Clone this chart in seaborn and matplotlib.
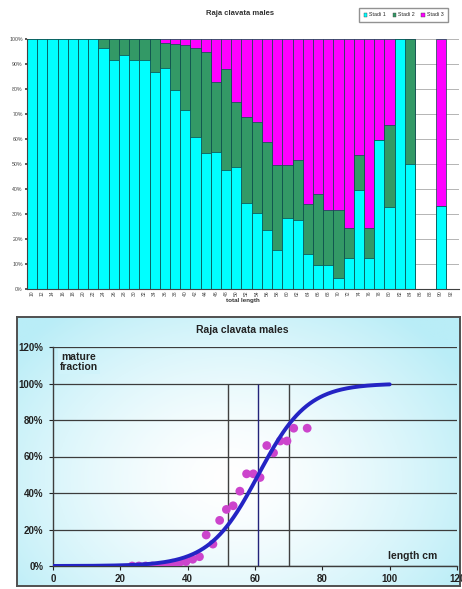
import numpy as np
import pandas as pd
import matplotlib
matplotlib.use("Agg")
import matplotlib.pyplot as plt
import seaborn as sns
from matplotlib.colors import to_rgb
from matplotlib.patches import Patch
from matplotlib.ticker import PercentFormatter

sns.set_theme(style="white")
plt.rcParams["font.family"] = ["Liberation Sans", "DejaVu Sans"]

nan = np.nan

# ---- maturity-stage composition by total-length class (percent of fish) ----
length_labels = ["10", "12", "14", "16", "18", "20", "22", "24", "26", "28",
                 "30", "32", "34", "36", "38", "40", "42", "44", "46", "48",
                 "50", "52", "54", "56", "58", "60", "62", "64", "66", "68",
                 "70", "72", "74", "76", "78", "80", "82", "84", "86", "88",
                 "90", "92"]
stage1 = [100, 100, 100, 100, 100, 100, 100, 96.5, 91.5, 93.5,
          91.5, 91.5, 87, 88.5, 79.5, 71.5, 61, 54.5, 55, 47.5,
          49, 34.5, 30.5, 23.5, 15.5, 28.5, 27.5, 14, 9.5, 9.5,
          4.5, 12.5, 39.5, 12.5, 59.5, 33, 100, 50, nan, nan,
          33.3, nan]
stage2 = [0, 0, 0, 0, 0, 0, 0, 3.5, 8.5, 6.5,
          8.5, 8.5, 13, 10, 18.7, 26.1, 35.3, 40.4, 28, 40.5,
          26, 34.5, 36.5, 35.5, 34, 21, 24, 20, 28.5, 22,
          27, 12, 14, 12, 0, 32.5, 0, 50, nan, nan,
          0, nan]
stage3 = [0, 0, 0, 0, 0, 0, 0, 0, 0, 0,
          0, 0, 0, 1.5, 1.8, 2.4, 3.7, 5.1, 17, 12,
          25, 31, 33, 41, 50.5, 50.5, 48.5, 66, 62, 68.5,
          68.5, 75.5, 46.5, 75.5, 40.5, 34.5, 0, 0, nan, nan,
          66.7, nan]
stage_names = ["Stadi 1", "Stadi 2", "Stadi 3"]
stage_colors = ["#00FFFF", "#339966", "#FF00FF"]

# ---- observed mature fraction and fitted maturity ogive ----
mature_len = [23.5, 25.5, 27.5, 29.5, 31.5, 33.5, 35.5, 37.5, 39.5, 41.5,
              43.5, 45.5, 47.5, 49.5, 51.5, 53.5, 55.5, 57.5, 59.5, 61.5,
              63.5, 65.5, 67.5, 69.5, 71.5, 75.5]
mature_frac = [0.0, 0.0, 0.0, 0.0, 0.0, 0.0, 0.015, 0.018, 0.024, 0.037,
               0.051, 0.17, 0.12, 0.25, 0.31, 0.33, 0.41, 0.505, 0.505, 0.485,
               0.66, 0.62, 0.685, 0.685, 0.755, 0.755]
l50 = 61.0
slope = 0.137
ogive_marks = [52, 61, 70]
ogive_mark_colors = ["#404040", "#23237a", "#404040"]

W, H = 462, 589
fig = plt.figure(figsize=(W / 100, H / 100), dpi=100)


def box(x0, y0, x1, y1):
    """Pixel box (origin top-left) -> figure-fraction rectangle."""
    return [x0 / W, 1 - y1 / H, (x1 - x0) / W, (y1 - y0) / H]


# ================= stacked composition chart =================
ax1 = fig.add_axes(box(27, 39, 459, 289))
df = pd.DataFrame({"length": length_labels, "s1": stage1, "s2": stage2, "s3": stage3})
df["c2"] = df["s1"] + df["s2"]
df["c3"] = df["c2"] + df["s3"]
edge = "#0b4a4a"
for col, colr in [("c3", stage_colors[2]), ("c2", stage_colors[1]), ("s1", stage_colors[0])]:
    sns.barplot(data=df, x="length", y=col, order=length_labels, color=colr,
                width=1.0, saturation=1, edgecolor=edge, linewidth=0.5,
                errorbar=None, ax=ax1, zorder=2)
ax1.set_xlim(-0.5, 41.8)
ax1.set_ylim(0, 100)
ax1.set_yticks(np.arange(0, 101, 10))
ax1.yaxis.set_major_formatter(PercentFormatter(100, decimals=0))
ax1.grid(axis="y", color="#a8a8a8", lw=0.6, zorder=0)
ax1.set_axisbelow(True)
for s in ["top", "right"]:
    ax1.spines[s].set_visible(False)
for s in ["left", "bottom"]:
    ax1.spines[s].set_color("#404040")
    ax1.spines[s].set_linewidth(0.8)
ax1.tick_params(axis="x", labelsize=3.6, rotation=90, pad=1, length=0, colors="#444444")
ax1.tick_params(axis="y", labelsize=3.8, pad=1.5, length=1.5, left=True, colors="#444444")
ax1.set_ylabel("")
ax1.set_xlabel("total length", fontsize=4.5, fontweight="bold", labelpad=1.0, color="#333333")
fig.text(240 / W, 1 - 13.5 / H, "Raja clavata males", ha="center", va="center",
         fontsize=5.5, fontweight="bold", color="#333333")
handles = [Patch(facecolor=c, edgecolor="#444444", lw=0.3) for c in stage_colors]
fig.legend(handles, stage_names, loc="center", bbox_to_anchor=(403.5 / W, 1 - 15 / H),
           ncol=3, fontsize=3.8, frameon=True, fancybox=False, edgecolor="#777777",
           handlelength=0.7, handleheight=0.7, handletextpad=0.3, columnspacing=1.3,
           borderpad=0.9)

# ================= maturity ogive chart =================
bg_box = box(17, 317, 460, 586)
bg = fig.add_axes(bg_box)
ny, nx = 140, 240
fy, fx = np.mgrid[0:1:ny * 1j, 0:1:nx * 1j]
white = np.array([1.0, 1.0, 1.0])
tint = np.array(to_rgb("#b9edf7"))


def shade(px, py):
    r = np.sqrt(((px - 0.48) / 0.62) ** 2 + ((py - 0.60) / 0.78) ** 2)
    t = np.clip(r, 0, 1) ** 1.5
    return t


t = shade(fx, fy)[..., None]
bg.imshow(white * (1 - t) + tint * t, aspect="auto", extent=(0, 1, 1, 0))
bg.set_xticks([])
bg.set_yticks([])
for s in bg.spines.values():
    s.set_color("#505050")
    s.set_linewidth(1.4)

ax2 = fig.add_axes(box(53, 347, 457, 566))
ax2.patch.set_alpha(0)
ax2.set_xlim(0, 120)
ax2.set_ylim(0, 1.2)
ax2.set_xticks(np.arange(0, 121, 20))
ax2.set_yticks(np.arange(0, 1.21, 0.2))
ax2.yaxis.set_major_formatter(PercentFormatter(1.0, decimals=0))
ax2.grid(axis="y", color="#3c3c3c", lw=0.9, zorder=1)
ax2.grid(axis="x", visible=False)
for s in ["top", "right"]:
    ax2.spines[s].set_visible(False)
for s in ["left", "bottom"]:
    ax2.spines[s].set_color("#3c3c3c")
    ax2.spines[s].set_linewidth(1.0)
ax2.tick_params(axis="both", labelsize=7, colors="#222222", length=3, width=0.8,
                left=True, bottom=True, direction="out")
ax2.tick_params(axis="y", pad=4)
ax2.tick_params(axis="x", pad=3)
for lab in ax2.get_xticklabels() + ax2.get_yticklabels():
    lab.set_fontweight("bold")

ax2.vlines(ogive_marks, 0, 1.0, colors=ogive_mark_colors, lw=1.0, zorder=2)

curve_len = np.linspace(0, 100, 301)
curve_frac = 1.0 / (1.0 + np.exp(-slope * (curve_len - l50)))
sns.scatterplot(x=mature_len, y=mature_frac, color="#CC44CC", s=40, edgecolor="none",
                ax=ax2, zorder=3)
sns.lineplot(x=curve_len, y=curve_frac, color="#2424C4", lw=2.8, ax=ax2, zorder=4)

# label box painted in the local background tone so the grid line stops short of it
lab_px, lab_py = (81 - 17) / 443, (365 - 317) / 269
lt = shade(lab_px, lab_py)
lab_bg = white * (1 - lt) + tint * lt
ax2.text(2.0, 1.175, "mature\nfraction", ha="left", va="top", fontsize=7.5,
         fontweight="bold", color="#222222", multialignment="center", linespacing=1.1,
         zorder=5, bbox=dict(facecolor=lab_bg, edgecolor="none", pad=1.5))
ax2.text(99.5, 0.03, "length cm", ha="left", va="bottom", fontsize=7.5,
         fontweight="bold", color="#222222", zorder=5)
fig.text(242 / W, 1 - 330 / H, "Raja clavata males", ha="center", va="center",
         fontsize=7.5, fontweight="bold", color="#222222")

fig.savefig("out.png", dpi=100)
